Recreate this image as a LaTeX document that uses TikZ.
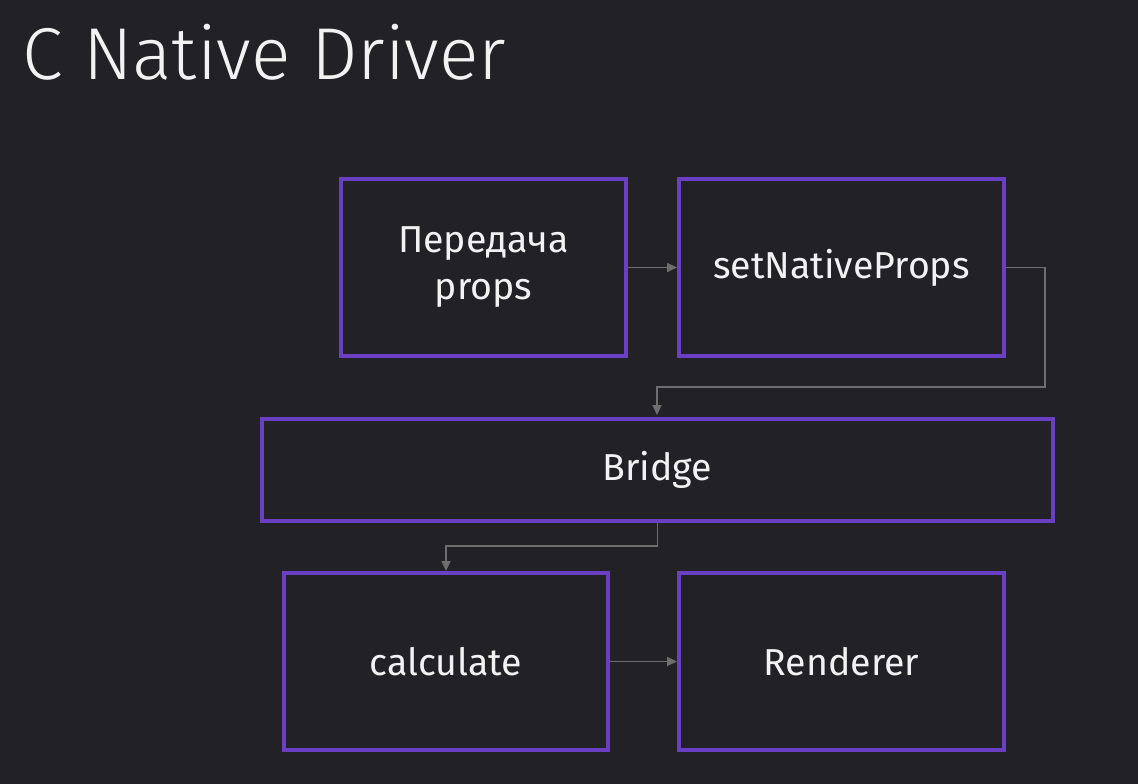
\documentclass[tikz,border=0pt]{standalone}
\usepackage{fontspec}
\setmainfont{Fira Sans}
\newfontfamily\titlefont[UprightFont={* Light}]{Fira Sans}
\usetikzlibrary{arrows.meta}
\definecolor{bg}{HTML}{222126}
\definecolor{boxc}{HTML}{6B3FC4}
\definecolor{arrc}{HTML}{6E6E6E}
\definecolor{txt}{HTML}{F2F2F2}
\tikzset{
  blk/.style={draw=boxc, line width=4pt, fill=bg, text=txt, font=\fontsize{37.5}{47}\selectfont, align=center, inner sep=0pt},
  conn/.style={draw=arrc, line width=1.6pt, -{Triangle[length=10pt,width=9pt]}}
}
\begin{document}
\begin{tikzpicture}[x=1pt,y=-1pt]
\fill[bg] (0,0) rectangle (1138,784);
\useasboundingbox (0,0) rectangle (1138,784);
\node[anchor=base west, text=txt, inner sep=0pt, font=\titlefont\fontsize{73.5}{80}\selectfont] (title) at (22,80) {C Native Driver};
\node[blk, minimum width=285pt, minimum height=177pt] (props) at (483.5,267.5) {Передача\\props};
\node[blk, minimum width=325pt, minimum height=177pt] (snp) at (841.5,267.5) {setNativeProps};
\node[blk, minimum width=791pt, minimum height=102pt] (bridge) at (657.5,470) {Bridge};
\node[blk, minimum width=324pt, minimum height=177pt] (calc) at (446,661.5) {calculate};
\node[blk, minimum width=325pt, minimum height=177pt] (rend) at (841.5,661.5) {Renderer};
\draw[conn] (props.east) -- (snp.west);
\draw[conn] (snp.east) -- (1045,267.5) -- (1045,387) -- (657,387) -- (657,415);
\draw[conn] (bridge.south) -- (657.5,546) -- (446,546) -- (calc.north);
\draw[conn] (calc.east) -- (rend.west);
\end{tikzpicture}
\end{document}
